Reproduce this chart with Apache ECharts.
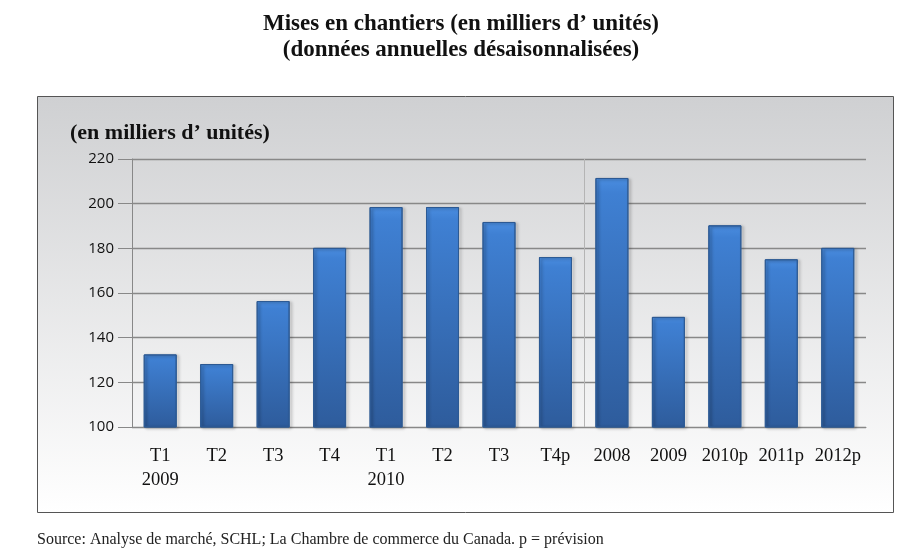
<!DOCTYPE html>
<html>
<head>
<meta charset="utf-8">
<script src="https://cdn.jsdelivr.net/npm/echarts@6/dist/echarts.min.js"></script>
<style>
  html, body { margin: 0; padding: 0; background: #fff; }
  #chart { width: 922px; height: 555px; }
</style>
</head>
<body>
<div id="chart"></div>
<script>
    // categories: quarters (2009-2010) then annual years
    const categories = ['T1\n2009', 'T2', 'T3', 'T4', 'T1\n2010', 'T2', 'T3', 'T4p',
                        '2008', '2009', '2010p', '2011p', '2012p'];
    const starts = [132.5, 128.2, 156.4, 180.2, 198.5, 198.5, 191.8, 176.1,
                    211.5, 149.3, 190.3, 175.1, 180.2];
    const yTicks = [100, 120, 140, 160, 180, 200, 220];
    const splitAfter = 7; // last quarterly bar, annual bars follow

    const serif = '"Liberation Serif", "DejaVu Serif", serif';

    const chart = echarts.init(document.getElementById('chart'));

    const option = {
        backgroundColor: '#fff',
        animation: false,
        title: {
            text: 'Mises en chantiers (en milliers d’ unités)\n(données annuelles désaisonnalisées)',
            left: 'center',
            top: 6,
            textStyle: {
                fontFamily: serif,
                fontWeight: 'bold',
                fontSize: 23,
                lineHeight: 26,
                color: '#111'
            }
        },
        graphic: [{
            id: 'box',
            type: 'rect',
            z: -10,
            shape: { x: 37.5, y: 96.5, width: 856, height: 416 },
            style: {
                fill: new echarts.graphic.LinearGradient(0, 0, 0, 1, [
                    { offset: 0, color: '#cfd0d2' },
                    { offset: 1, color: '#ffffff' }
                ]),
                stroke: '#555',
                lineWidth: 1
            }
        }, {
            id: 'unit',
            type: 'text',
            left: 70,
            top: 122,
            style: {
                text: '(en milliers d’ unités)',
                font: 'bold 22px ' + serif,
                fill: '#111'
            }
        }, {
            id: 'source',
            type: 'text',
            left: 37,
            top: 532,
            style: {
                text: 'Source: Analyse de marché, SCHL; La Chambre de commerce du Canada. p = prévision',
                font: '16px ' + serif,
                fill: '#222'
            }
        }],
        grid: {
            left: 132,
            right: 56,
            top: 159,
            bottom: 128
        },
        xAxis: {
            type: 'category',
            data: categories,
            axisLine: { lineStyle: { color: '#888' } },
            axisTick: { show: false },
            axisLabel: {
                interval: 0,
                margin: 17,
                fontFamily: serif,
                fontSize: 18.5,
                lineHeight: 24,
                color: '#111'
            }
        },
        yAxis: {
            type: 'value',
            min: yTicks[0],
            max: yTicks[yTicks.length - 1],
            interval: 20,
            axisLine: { show: true, lineStyle: { color: '#888' } },
            axisTick: { show: true, length: 14, lineStyle: { color: '#888' } },
            axisLabel: {
                margin: 18,
                fontFamily: '"Open Sans", "Liberation Sans", sans-serif',
                fontSize: 15,
                color: '#111'
            },
            splitLine: { lineStyle: { color: '#888', width: 1.3 } }
        },
        series: [{
            type: 'bar',
            data: starts,
            barWidth: 33,
            itemStyle: {
                color: new echarts.graphic.LinearGradient(0, 0, 0, 1, [
                    { offset: 0, color: '#4a8de0' },
                    { offset: 0.06, color: '#3f80d3' },
                    { offset: 1, color: '#2e5c9c' }
                ]),
                borderColor: '#2d5a94',
                borderWidth: 1,
                shadowColor: 'rgba(0,0,0,0.35)',
                shadowBlur: 3,
                shadowOffsetX: 2,
                shadowOffsetY: 1
            }
        }]
    };

    chart.setOption(option);

    // separator between quarterly and annual bars, placed through the axis scales
    const xa = chart.convertToPixel({ xAxisIndex: 0 }, splitAfter);
    const xb = chart.convertToPixel({ xAxisIndex: 0 }, splitAfter + 1);
    const yTop = chart.convertToPixel({ yAxisIndex: 0 }, yTicks[yTicks.length - 1]);
    const yBot = chart.convertToPixel({ yAxisIndex: 0 }, yTicks[0]);
    const sx = Math.round((xa + xb) / 2) + 0.5;
    chart.setOption({
        graphic: [{
            id: 'sep',
            type: 'line',
            z: 1,
            shape: { x1: sx, y1: yTop, x2: sx, y2: yBot },
            style: { stroke: '#b4b4b4', lineWidth: 1 }
        }]
    });
</script>
</body>
</html>
